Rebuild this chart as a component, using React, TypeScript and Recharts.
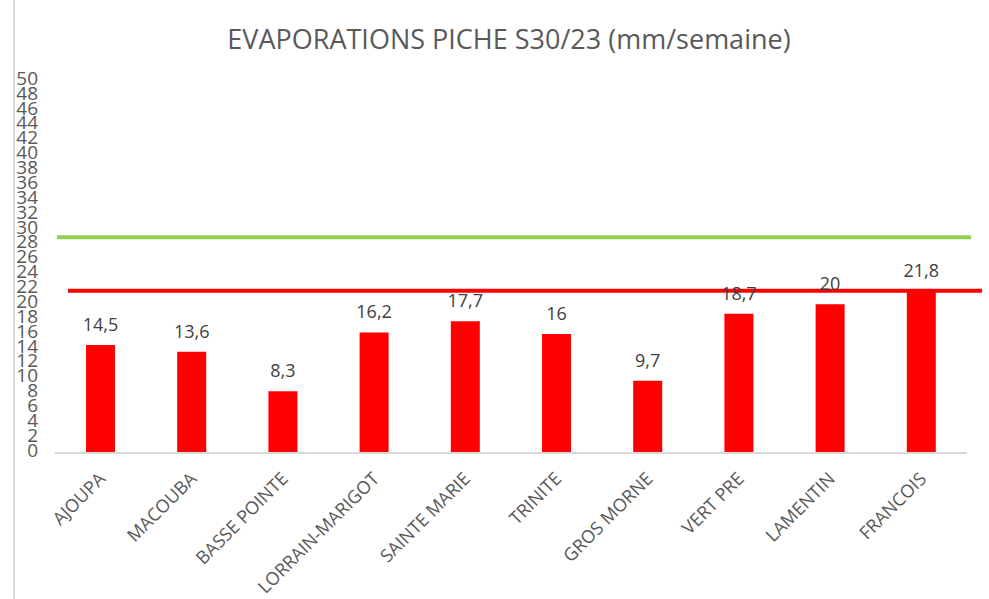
import React from "react";
import {
  BarChart,
  Bar,
  XAxis,
  YAxis,
  ReferenceLine,
  LabelList,
} from "recharts";

const stations = [
  "AJOUPA",
  "MACOUBA",
  "BASSE POINTE",
  "LORRAIN-MARIGOT",
  "SAINTE MARIE",
  "TRINITE",
  "GROS MORNE",
  "VERT PRE",
  "LAMENTIN",
  "FRANCOIS",
];
const evaporation = [14.5, 13.6, 8.3, 16.2, 17.7, 16, 9.7, 18.7, 20, 21.8];
const yTicks = [
  0, 2, 4, 6, 8, 10, 12, 14, 16, 18, 20, 22, 24, 26, 28, 30, 32, 34, 36, 38,
  40, 42, 44, 46, 48, 50,
];
const greenLevel = 29;
const redLevel = 21.8;

const data = stations.map((name, i) => ({ name, value: evaporation[i] }));

const font = "'Open Sans', sans-serif";
const ink = "#595959";

function XTick({ x, y, payload }: any) {
  return (
    <g transform={`translate(${x + 6},${y + 19})`}>
      <text
        transform="rotate(-45)"
        textAnchor="end"
        fill={ink}
        fontSize={18}
        fontFamily={font}
      >
        {payload.value}
      </text>
    </g>
  );
}

// lines in the source sit a bit off the plot edges
const shiftedLine = (color: string, dx1: number, dx2: number) => (p: any) =>
  (
    <line
      x1={p.x1 + dx1}
      x2={p.x2 + dx2}
      y1={p.y1}
      y2={p.y2}
      stroke={color}
      strokeWidth={4}
    />
  );

export default function App() {
  return (
    <div
      style={{
        position: "absolute",
        left: 0,
        top: 0,
        width: 989,
        height: 599,
        background: "#fff",
        fontFamily: font,
      }}
    >
      <div
        style={{
          position: "absolute",
          left: 13,
          top: 0,
          width: 2,
          height: 599,
          background: "#d9d9d9",
        }}
      />
      <div
        style={{
          position: "absolute",
          left: 0,
          width: 1018,
          top: 20,
          textAlign: "center",
          fontSize: 27,
          color: ink,
          whiteSpace: "nowrap",
        }}
      >
        EVAPORATIONS PICHE S30/23 (mm/semaine)
      </div>
      <BarChart
        width={989}
        height={599}
        data={data}
        margin={{ top: 81, right: 22, bottom: 0, left: 0 }}
        barCategoryGap="34%"
      >
        <XAxis
          dataKey="name"
          interval={0}
          tickLine={false}
          axisLine={{ stroke: "#d9d9d9", strokeWidth: 2 }}
          height={146}
          tick={<XTick />}
        />
        <YAxis
          domain={[0, 50]}
          ticks={yTicks}
          interval={0}
          width={55}
          axisLine={false}
          tickLine={false}
          tickSize={0}
          tickMargin={17}
          tick={{ fill: ink, fontSize: 19, fontFamily: font, dy: -3 }}
        />
        <ReferenceLine
          y={greenLevel}
          shape={shiftedLine("#92d050", 2, 4)}
        />
        <ReferenceLine y={redLevel} shape={shiftedLine("#ff0000", 13, 15)} />
        <Bar dataKey="value" fill="#ff0000" isAnimationActive={false}>
          <LabelList
            dataKey="value"
            position="top"
            offset={14}
            fill="#404040"
            fontSize={18}
            fontFamily={font}
            formatter={(v: any) => String(v).replace(".", ",")}
          />
        </Bar>
      </BarChart>
    </div>
  );
}
